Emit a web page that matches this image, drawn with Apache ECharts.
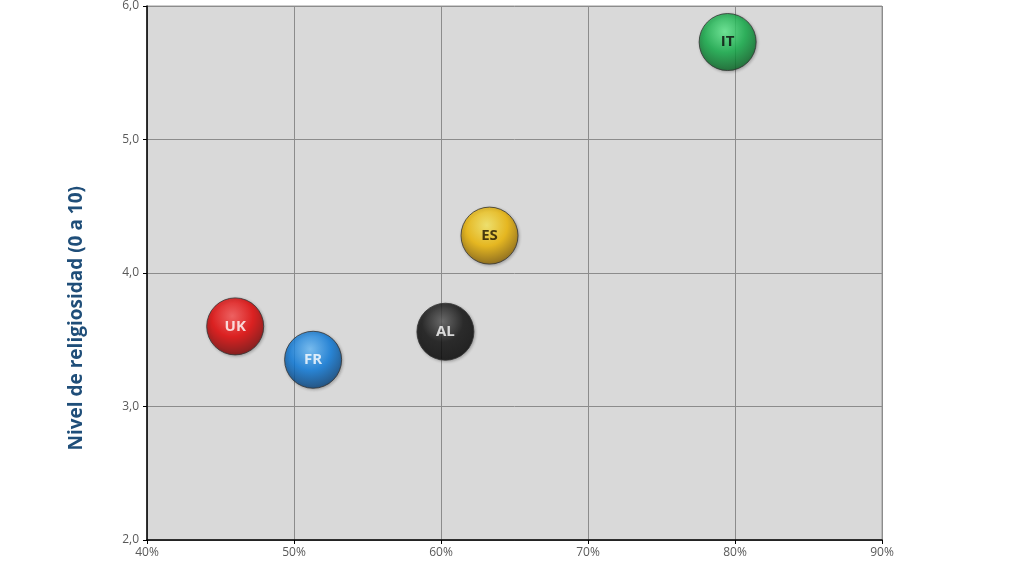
<!DOCTYPE html>
<html>
<head>
<meta charset="utf-8">
<script src="https://cdn.jsdelivr.net/npm/echarts@6/dist/echarts.min.js"></script>
<style>html,body{margin:0;padding:0;background:#fff;}#c{width:1024px;height:576px;}</style>
</head>
<body>
<div id="c"></div>
<script>
var countries = ['UK', 'FR', 'AL', 'ES', 'IT'];
var xValues = [46.0, 51.3, 60.3, 63.3, 79.5];
var yValues = [3.60, 3.35, 3.56, 4.28, 5.73];
var xTicks = [40, 50, 60, 70, 80, 90];
var yTicks = [2, 3, 4, 5, 6];
var yTitle = 'Nivel de religiosidad (0 a 10)';

var palette = {
  UK: {hi: '#ff5050', base: '#e80000', dark: '#6e0000', text: '#ffffff'},
  FR: {hi: '#6cc0ff', base: '#0a7ce0', dark: '#063a6e', text: '#ffffff'},
  AL: {hi: '#5a5a5a', base: '#0c0c0c', dark: '#000000', text: '#ffffff'},
  ES: {hi: '#ffee60', base: '#f5bb00', dark: '#7e5800', text: '#1e1400'},
  IT: {hi: '#60f090', base: '#10b048', dark: '#055a1e', text: '#0a0a0a'}
};

function sphere(p) {
  return {
    type: 'radial', x: 0.45, y: 0.32, r: 0.72,
    colorStops: [
      {offset: 0, color: p.hi},
      {offset: 0.5, color: p.base},
      {offset: 1, color: p.dark}
    ]
  };
}

var data = countries.map(function (c, i) {
  var p = palette[c];
  return {
    name: c,
    value: [xValues[i], yValues[i]],
    itemStyle: {color: sphere(p), borderColor: '#333333', borderWidth: 1,
      shadowColor: 'rgba(0,0,0,0.3)', shadowBlur: 3, shadowOffsetX: 1, shadowOffsetY: 1},
    label: {color: p.text}
  };
});

var chart = echarts.init(document.getElementById('c'));
chart.setOption({
  animation: false,
  grid: {left: 147, right: 142, top: 6, bottom: 36, show: true,
    backgroundColor: '#d9d9d9', borderColor: '#9a9a9a', borderWidth: 1},
  xAxis: {
    type: 'value', min: xTicks[0], max: xTicks[xTicks.length - 1], interval: 10,
    axisLine: {show: true, lineStyle: {color: '#000', width: 1.5}},
    axisTick: {show: true, inside: false, length: 4, lineStyle: {color: '#000'}},
    axisLabel: {formatter: '{value}%', color: '#595959', fontSize: 12,
      fontFamily: 'Open Sans', margin: 7},
    splitLine: {show: true, lineStyle: {color: '#8c8c8c', width: 1}}
  },
  yAxis: {
    type: 'value', min: yTicks[0], max: yTicks[yTicks.length - 1], interval: 1,
    axisLine: {show: true, lineStyle: {color: '#000', width: 1.5}},
    axisTick: {show: true, inside: false, length: 4, lineStyle: {color: '#000'}},
    axisLabel: {formatter: function (v) { return v.toFixed(1).replace('.', ','); },
      color: '#595959', fontSize: 12, fontFamily: 'Open Sans', margin: 8},
    splitLine: {show: true, lineStyle: {color: '#8c8c8c', width: 1}}
  },
  graphic: [{
    type: 'text', left: 67, top: 186, rotation: Math.PI / 2,
    style: {text: yTitle, fill: '#1f4e79', font: 'bold 19px "Open Sans"'}
  }],
  series: [{
    type: 'scatter',
    symbolSize: 57,
    data: data,
    label: {show: true, position: 'inside', formatter: '{b}',
      fontFamily: 'Open Sans', fontWeight: 'bold', fontSize: 15}
  }]
});
</script>
</body>
</html>
